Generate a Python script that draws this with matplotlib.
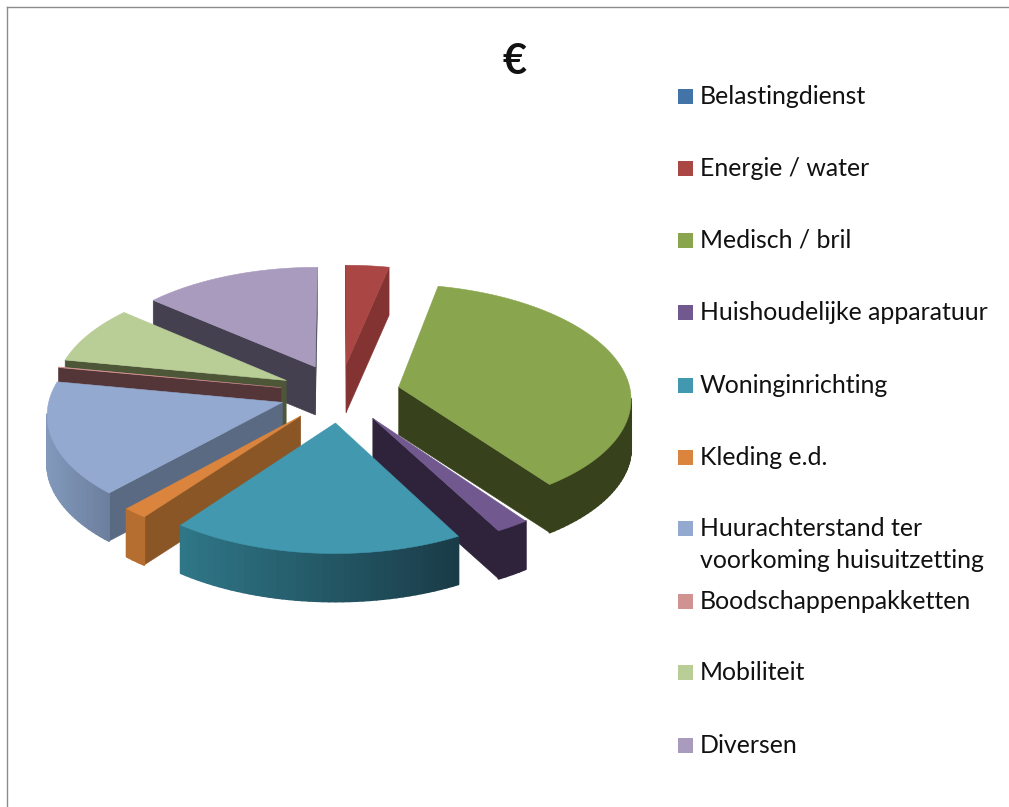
import numpy as np
import matplotlib
matplotlib.use("Agg")
import matplotlib.pyplot as plt
from matplotlib.patches import Polygon, Rectangle

TITLE = "€"
categories = ["Belastingdienst", "Energie / water", "Medisch / bril", "Huishoudelijke apparatuur",
              "Woninginrichting", "Kleding e.d.", "Huurachterstand ter\nvoorkoming huisuitzetting",
              "Boodschappenpakketten", "Mobiliteit", "Diversen"]
values = [0.0, 12.0, 132.0, 7.5, 65.5, 5.5, 58.0, 0.3, 29.7, 49.5]
colors = ["#4374A8", "#AA4643", "#89A54E", "#71588F", "#4198AF", "#DB843D", "#93A9CF", "#D19392", "#B9CD96", "#A99BBD"]
wall_colors = ["#2A4666", "#843333", "#37421C", "#2E233B", "#1A3C48", "#8B5626", "#5A6A82", "#553638", "#4D5738", "#44404F"]
rim_left = ["#3A6490", "#843333", "#37421C", "#2E233B", "#2F7788", "#B56E30", "#8299BC", "#553638", "#4D5738", "#44404F"]
rim_right = ["#3A6490", "#843333", "#37421C", "#2E233B", "#1A3C48", "#B56E30", "#6D7F9E", "#553638", "#4D5738", "#44404F"]
draw_order = [9, 1, 8, 2, 7, 6, 5, 3, 4]

CX, CY, RX, RY, PERSP, EXPLODE, DEPTH = 340, 393, 232, 113, 0.09, 0.26, 48

fig = plt.figure(figsize=(10.09, 8.07), dpi=100)
ax = fig.add_axes([0, 0, 1, 1])
ax.set_xlim(0, 1009)
ax.set_ylim(807, 0)
ax.axis("off")

ax.plot([7, 7], [807, 7], color="#8c8c8c", lw=1)
ax.plot([7, 1009], [7, 7], color="#8c8c8c", lw=1)


def project(x, y, z=0.0):
    s = 1.0 / (1.0 - PERSP * y)
    return CX + RX * x * s, CY + RY * y * s + DEPTH * z


def signed_area(p):
    p = np.asarray(p)
    return 0.5 * np.sum(p[:, 0] * np.roll(p[:, 1], -1) - np.roll(p[:, 0], -1) * p[:, 1])


def face(pts, color, z, lw=0.4):
    ax.add_patch(Polygon(pts, closed=True, facecolor=color, edgecolor=color, lw=lw, zorder=z, joinstyle="round"))


def mix(c1, c2, t):
    a, b = np.array(matplotlib.colors.to_rgb(c1)), np.array(matplotlib.colors.to_rgb(c2))
    return tuple(a + (b - a) * t)


edges = np.concatenate([[0.0], np.cumsum(values)])
edges = edges * 360.0 / edges[-1]
layer = 10
for i in draw_order:
    a0, a1 = np.radians(edges[i]), np.radians(edges[i + 1])
    mid = 0.5 * (a0 + a1)
    ox, oy = EXPLODE * np.sin(mid), -EXPLODE * np.cos(mid)
    ts = np.linspace(a0, a1, max(int((a1 - a0) * 40), 4))
    xs, ys = ox + np.sin(ts), oy - np.cos(ts)
    top_apex, bot_apex = project(ox, oy), project(ox, oy, 1)
    top_arc = [project(x, y) for x, y in zip(xs, ys)]
    bot_arc = [project(x, y, 1) for x, y in zip(xs, ys)]

    faces = [[top_apex, top_arc[0], bot_arc[0], bot_apex],
             [top_arc[-1], top_apex, bot_apex, bot_arc[-1]]]
    for f in faces:
        if signed_area(f) < 0:
            face(f, wall_colors[i], layer)
    layer += 1
    sx = np.array([p[0] for p in top_arc])
    for j in range(len(ts) - 1):
        quad = [top_arc[j], top_arc[j + 1], bot_arc[j + 1], bot_arc[j]]
        if signed_area(quad) < 0:
            t = (sx[j] - sx.min()) / max(sx.max() - sx.min(), 1)
            face(quad, mix(rim_left[i], rim_right[i], t), layer, lw=1.4)
    layer += 1
    face([top_apex] + top_arc, colors[i], layer)
    layer += 1

legend_y = [96, 168, 240, 312, 385, 457, 528, 601, 672, 745]
for name, col, y in zip(categories, colors, legend_y):
    ax.add_patch(Rectangle((678, y - 7.5), 15, 15, facecolor=col, edgecolor="none", zorder=100))
    ax.text(700, y - 11, name, fontsize=17.9, family="Lato", color="#111111", va="top", ha="left",
            linespacing=1.45, zorder=100)

ax.text(515, 62, TITLE, fontsize=30, family="Lato", fontweight="bold", color="#111111", ha="center", va="center")

fig.savefig("out.png", dpi=100)
